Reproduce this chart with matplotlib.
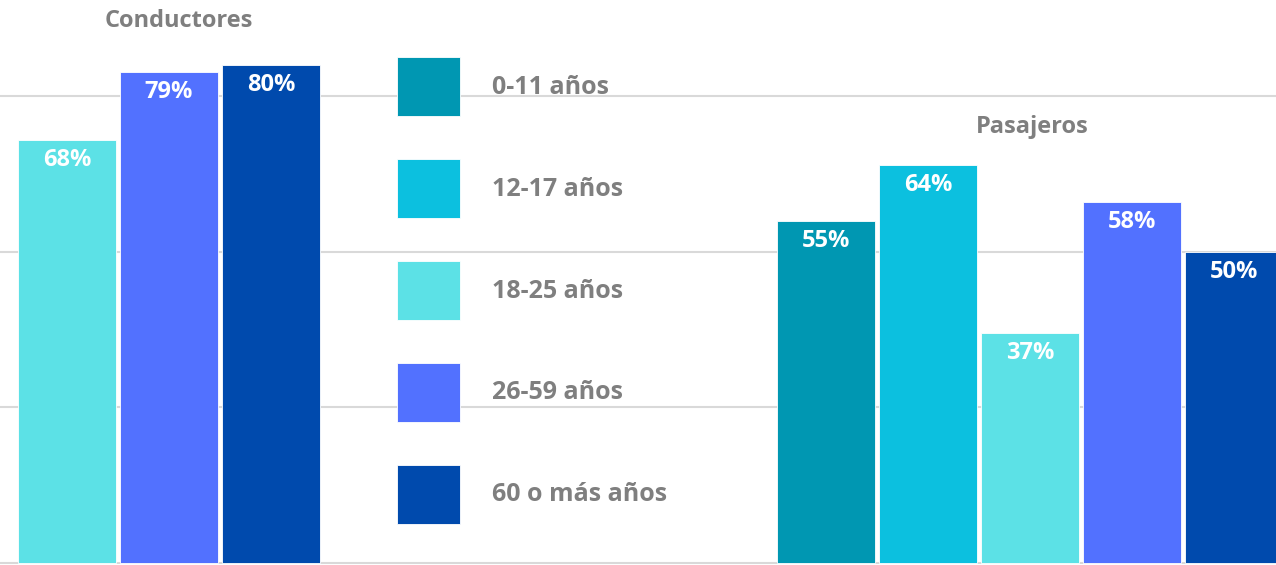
import numpy as np
import matplotlib.pyplot as plt

# data
groups = ['Conductores', 'Pasajeros']
ages = ['0-11 años', '12-17 años', '18-25 años', '26-59 años', '60 o más años']
conductores = [np.nan, np.nan, 68, 79, 80]
pasajeros = [55, 64, 37, 58, 50]
colors = ['#0097B2', '#0CC0DF', '#5CE1E6', '#5271FF', '#004AAD']
grid_values = [0, 25, 50, 75]

grey = '#7f7f7f'
plt.rcParams['font.family'] = ['Open Sans', 'DejaVu Sans']

fig = plt.figure(figsize=(12.76, 5.65), dpi=100)
ax = fig.add_axes([0, 0, 1, 1])

group_offset = 9.44  # slot distance between the two groups
for i, age in enumerate(ages):
    x = [i, group_offset + i]
    vals = [conductores[i], pasajeros[i]]
    bars = ax.bar(x, vals, width=0.96, color=colors[i], edgecolor='white',
                  linewidth=0.6, label=age, zorder=2)
    for b, v in zip(bars, vals):
        if np.isnan(v):
            continue
        ax.annotate(f'{v:.0f}%', (b.get_x() + b.get_width() / 2, v),
                    xytext=(0, -20), textcoords='offset pixels',
                    ha='center', va='center', color='white',
                    fontsize=17, fontweight='bold', zorder=3)

ax.set_xlim(1.343, 13.853)
ax.set_ylim(-0.32, 90.5)
ax.set_yticks(grid_values)
ax.grid(axis='y', color='#d9d9d9', linewidth=1.5, zorder=0)
ax.set_axisbelow(True)
ax.tick_params(left=False, bottom=False, labelleft=False, labelbottom=False)
for s in ax.spines.values():
    s.set_visible(False)

fig.text(179 / 1276, 1 - 21 / 565, groups[0], ha='center', va='center',
         fontsize=17, fontweight='bold', color=grey)
fig.text(1032 / 1276, 1 - 127 / 565, groups[1], ha='center', va='center',
         fontsize=17, fontweight='bold', color=grey)

leg = fig.legend(loc='upper left', bbox_to_anchor=(397 / 1276, 1 - 57 / 565),
                 frameon=False, borderpad=0, borderaxespad=0,
                 handlelength=2.52, handleheight=3.25, handletextpad=1.3,
                 labelspacing=1.72, prop={'weight': 'bold', 'size': 18})
for t in leg.get_texts():
    t.set_color(grey)

fig.savefig('out.png', dpi=100)
